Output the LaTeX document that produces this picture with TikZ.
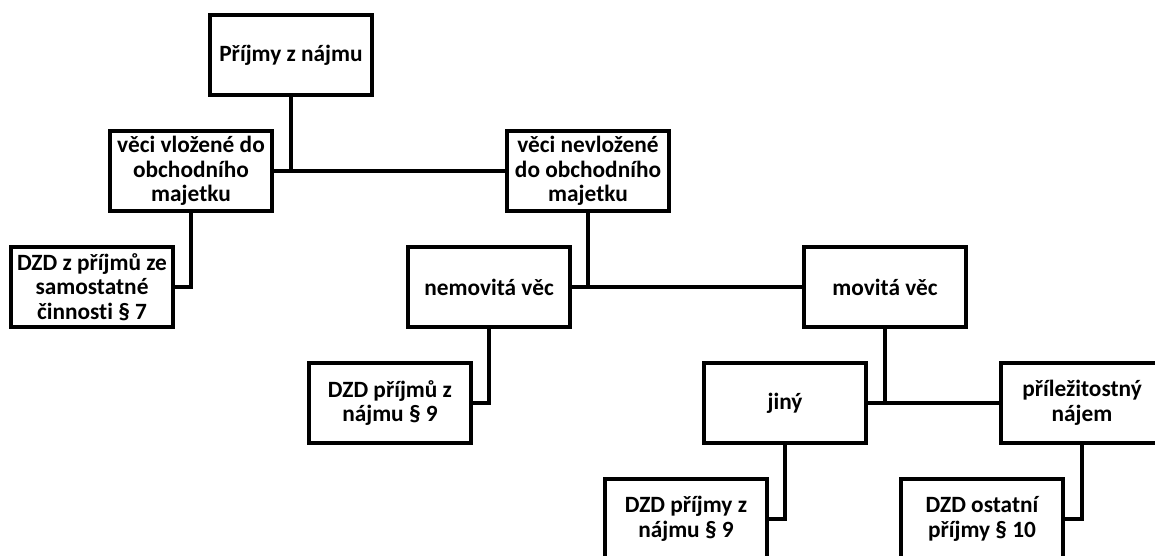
\documentclass[tikz,border=0pt]{standalone}
\usepackage{fontspec}
\setmainfont{Carlito}[Ligatures=NoCommon]
\usepackage{tikz}

\tikzset{
  box/.style={draw, line width=3pt, minimum width=122pt, minimum height=60pt,
    inner sep=0pt, align=center, font=\bfseries\fontsize{17.5}{18.5}\selectfont},
  conn/.style={line width=3pt}
}

\begin{document}
\begin{tikzpicture}[x=0.75pt,y=0.75pt,yscale=-1,xscale=1]
\useasboundingbox (0,0) rectangle (1155,556);

% Text Node
\draw (291,55) node [box] (top) {Příjmy z nájmu};
% Text Node
\draw (191,171) node [box] (vlozene) {věci vložené do\\obchodního\\majetku};
% Text Node
\draw (588,171) node [box] (nevlozene) {věci nevložené\\do obchodního\\majetku};
% Text Node
\draw (92,287) node [box] (dzdsedm) {DZD z příjmů ze\\samostatné\\činnosti § 7};
% Text Node
\draw (489,287) node [box] (nemovita) {nemovitá věc};
% Text Node
\draw (885,287) node [box] (movita) {movitá věc};
% Text Node
\draw (390,403) node [box] (dzddevet) {DZD příjmů z\\nájmu § 9};
% Text Node
\draw (785,403) node [box] (jiny) {jiný};
% Text Node
\draw (1082,403) node [box] (prilez) {příležitostný\\nájem};
% Text Node
\draw (686,519) node [box] (dzdjiny) {DZD příjmy z\\nájmu § 9};
% Text Node
\draw (982,519) node [box] (dzddeset) {DZD ostatní\\příjmy § 10};

%Straight Lines
\draw [conn] (top.south) -- (top.south |- vlozene.east) ;
%Straight Lines
\draw [conn] (vlozene.east) -- (nevlozene.west) ;
%Straight Lines
\draw [conn] (vlozene.south) |- (dzdsedm.east) ;
%Straight Lines
\draw [conn] (nevlozene.south) -- (nevlozene.south |- nemovita.east) ;
%Straight Lines
\draw [conn] (nemovita.east) -- (movita.west) ;
%Straight Lines
\draw [conn] (nemovita.south) |- (dzddevet.east) ;
%Straight Lines
\draw [conn] (movita.south) -- (movita.south |- jiny.east) ;
%Straight Lines
\draw [conn] (jiny.east) -- (prilez.west) ;
%Straight Lines
\draw [conn] (jiny.south) |- (dzdjiny.east) ;
%Straight Lines
\draw [conn] (prilez.south) |- (dzddeset.east) ;

\end{tikzpicture}
\end{document}
